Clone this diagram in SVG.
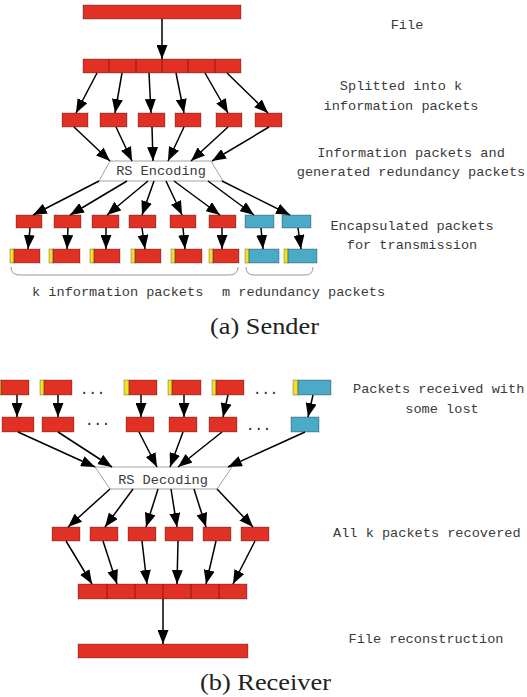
<svg xmlns="http://www.w3.org/2000/svg" width="527" height="697" viewBox="0 0 527 697">
<defs>
<marker id="ah" markerWidth="14" markerHeight="11" refX="14" refY="5.5" orient="auto" markerUnits="userSpaceOnUse"><path d="M0,0 L14,5.5 L0,11 z" fill="#000"/></marker>
<style>
.r{fill:#E03124;stroke:#000;stroke-opacity:0.35;stroke-width:0.8}
.c{fill:#4BAAC6;stroke:#000;stroke-opacity:0.35;stroke-width:0.8}
.y{fill:#F2E12A;stroke:#000;stroke-opacity:0.35;stroke-width:0.8}
.dv{stroke:#8B1A14;stroke-width:1}
.tz{fill:#fff;stroke:#8a8a8a;stroke-width:0.8}
.a{stroke:#000;stroke-width:1.5;fill:none;marker-end:url(#ah)}
.br{fill:none;stroke:#9a9a9a;stroke-width:1}
.t{font-family:"Liberation Mono","DejaVu Sans Mono",monospace;font-size:13.6px;fill:#3a3a3a}
.tm{text-anchor:middle}
.cap{font-family:"Liberation Serif","DejaVu Serif",serif;font-size:23px;fill:#222;text-anchor:middle}
.dots{font-family:"Liberation Mono",monospace;font-size:14px;fill:#222}
</style>
</defs>

<!-- ===== Sender ===== -->
<g id="file">
<rect class="r" x="83" y="5" width="158" height="14"/>
</g>
<g id="split">
<rect class="r" x="83" y="59" width="158" height="14"/>
<line class="dv" x1="109" y1="59" x2="109" y2="73"/>
<line class="dv" x1="136" y1="59" x2="136" y2="73"/>
<line class="dv" x1="162" y1="59" x2="162" y2="73"/>
<line class="dv" x1="188" y1="59" x2="188" y2="73"/>
<line class="dv" x1="215" y1="59" x2="215" y2="73"/>
</g>
<g id="info-packets">
<rect class="r" x="62" y="113" width="26" height="14"/>
<rect class="r" x="100" y="113" width="27" height="14"/>
<rect class="r" x="138" y="113" width="27" height="14"/>
<rect class="r" x="175" y="113" width="26" height="14"/>
<rect class="r" x="216" y="113" width="26" height="14"/>
<rect class="r" x="255" y="113" width="27" height="14"/>
</g>
<g id="rs-encoding">
<polygon class="tz" points="110,161 211,161 223,181 99,181"/>
<text class="t tm" x="161" y="175">RS Encoding</text>
</g>
<g id="encoded">
<rect class="r" x="16" y="215" width="26" height="13"/>
<rect class="r" x="54" y="215" width="27" height="13"/>
<rect class="r" x="92" y="215" width="27" height="13"/>
<rect class="r" x="129" y="215" width="27" height="13"/>
<rect class="r" x="170" y="215" width="26" height="13"/>
<rect class="r" x="209" y="215" width="27" height="13"/>
<rect class="c" x="245" y="215" width="29" height="13"/>
<rect class="c" x="282" y="215" width="29" height="13"/>
</g>
<g id="encapsulated">
<rect class="y" x="10" y="249" width="4" height="14"/><rect class="r" x="14" y="249" width="26" height="14"/>
<rect class="y" x="49" y="249" width="4" height="14"/><rect class="r" x="53" y="249" width="27" height="14"/>
<rect class="y" x="90" y="249" width="4" height="14"/><rect class="r" x="94" y="249" width="26" height="14"/>
<rect class="y" x="131" y="249" width="4" height="14"/><rect class="r" x="135" y="249" width="26" height="14"/>
<rect class="y" x="171" y="249" width="4" height="14"/><rect class="r" x="175" y="249" width="27" height="14"/>
<rect class="y" x="209" y="249" width="4" height="14"/><rect class="r" x="213" y="249" width="26" height="14"/>
<rect class="y" x="245" y="249" width="4" height="14"/><rect class="c" x="249" y="249" width="30" height="14"/>
<rect class="y" x="284" y="249" width="4" height="14"/><rect class="c" x="288" y="249" width="29" height="14"/>
</g>
<g id="braces">
<path class="br" d="M11,267 Q11,275 20,275 L229,275 Q238,275 238,267"/>
<path class="br" d="M246,267 Q246,275 254,275 L305,275 Q313,275 313,267"/>
</g>

<g id="connectors-sender">
<line class="a" x1="162" y1="19" x2="162" y2="59"/>
<line class="a" x1="97" y1="73" x2="76" y2="113"/>
<line class="a" x1="122" y1="73" x2="115" y2="113"/>
<line class="a" x1="149" y1="73" x2="151" y2="113"/>
<line class="a" x1="176" y1="73" x2="184" y2="113"/>
<line class="a" x1="205" y1="73" x2="228" y2="113"/>
<line class="a" x1="227" y1="73" x2="268" y2="113"/>
<line class="a" x1="74" y1="127" x2="110" y2="161"/>
<line class="a" x1="116" y1="127" x2="132" y2="161"/>
<line class="a" x1="152" y1="127" x2="153" y2="161"/>
<line class="a" x1="184" y1="127" x2="168" y2="161"/>
<line class="a" x1="228" y1="127" x2="191" y2="161"/>
<line class="a" x1="269" y1="127" x2="212" y2="161"/>
<line class="a" x1="99" y1="181" x2="33" y2="215"/>
<line class="a" x1="127" y1="181" x2="70" y2="215"/>
<line class="a" x1="148" y1="181" x2="107" y2="215"/>
<line class="a" x1="154" y1="181" x2="142" y2="215"/>
<line class="a" x1="166" y1="181" x2="182" y2="215"/>
<line class="a" x1="174" y1="181" x2="220" y2="215"/>
<line class="a" x1="208" y1="181" x2="254" y2="215"/>
<line class="a" x1="222" y1="181" x2="290" y2="215"/>
<line class="a" x1="30" y1="228" x2="28" y2="249"/>
<line class="a" x1="68" y1="228" x2="67" y2="249"/>
<line class="a" x1="106" y1="228" x2="106" y2="249"/>
<line class="a" x1="142" y1="228" x2="145" y2="249"/>
<line class="a" x1="183" y1="228" x2="185" y2="249"/>
<line class="a" x1="222" y1="228" x2="222" y2="249"/>
<line class="a" x1="261" y1="228" x2="263" y2="249"/>
<line class="a" x1="298" y1="228" x2="301" y2="249"/>
</g>

<g id="labels-sender">
<text class="t tm" x="407" y="29">File</text>
<text class="t tm" x="401" y="90">Splitted into k</text>
<text class="t tm" x="401" y="110">information packets</text>
<text class="t tm" x="411" y="157">Information packets and</text>
<text class="t tm" x="411" y="176">generated redundancy packets</text>
<text class="t tm" x="412" y="230">Encapsulated packets</text>
<text class="t tm" x="412" y="249">for transmission</text>
<text class="t" x="32" y="296">k information packets</text>
<text class="t" x="222" y="296">m redundancy packets</text>
<text class="cap" x="264.5" y="334" textLength="109" lengthAdjust="spacingAndGlyphs">(a) Sender</text>
</g>

<!-- ===== Receiver ===== -->
<g id="received">
<rect class="y" x="-4" y="380" width="5" height="15"/><rect class="r" x="1" y="380" width="28" height="15"/>
<rect class="y" x="40" y="380" width="4" height="15"/><rect class="r" x="44" y="380" width="28" height="15"/>
<rect class="y" x="124" y="380" width="5" height="15"/><rect class="r" x="129" y="380" width="28" height="15"/>
<rect class="y" x="168" y="380" width="4" height="15"/><rect class="r" x="172" y="380" width="29" height="15"/>
<rect class="y" x="212" y="380" width="4" height="15"/><rect class="r" x="216" y="380" width="28" height="15"/>
<rect class="y" x="293" y="380" width="5" height="15"/><rect class="c" x="298" y="380" width="33" height="15"/>
<text class="dots" x="80" y="394">...</text>
<text class="dots" x="253" y="394">...</text>
</g>
<g id="decapsulated">
<rect class="r" x="2" y="417" width="32" height="15"/>
<rect class="r" x="42" y="417" width="32" height="15"/>
<rect class="r" x="126" y="417" width="28" height="15"/>
<rect class="r" x="169" y="417" width="28" height="15"/>
<rect class="r" x="209" y="417" width="28" height="15"/>
<rect class="c" x="291" y="417" width="28" height="15"/>
<text class="dots" x="85" y="425">...</text>
<text class="dots" x="246" y="430">...</text>
</g>
<g id="rs-decoding">
<polygon class="tz" points="95,467 232,467 217,489 110,489"/>
<text class="t tm" x="163" y="484">RS Decoding</text>
</g>
<g id="recovered">
<rect class="r" x="52" y="527" width="28" height="14"/>
<rect class="r" x="90" y="527" width="28" height="14"/>
<rect class="r" x="128" y="527" width="28" height="14"/>
<rect class="r" x="165" y="527" width="28" height="14"/>
<rect class="r" x="203" y="527" width="28" height="14"/>
<rect class="r" x="241" y="527" width="28" height="14"/>
</g>
<g id="merged">
<rect class="r" x="78" y="584" width="169" height="15"/>
<line class="dv" x1="107" y1="584" x2="107" y2="599"/>
<line class="dv" x1="135" y1="584" x2="135" y2="599"/>
<line class="dv" x1="163" y1="584" x2="163" y2="599"/>
<line class="dv" x1="191" y1="584" x2="191" y2="599"/>
<line class="dv" x1="219" y1="584" x2="219" y2="599"/>
</g>
<g id="file-rebuilt">
<rect class="r" x="78" y="644" width="170" height="14"/>
</g>

<g id="connectors-receiver">
<line class="a" x1="17" y1="395" x2="17" y2="417"/>
<line class="a" x1="58" y1="395" x2="58" y2="417"/>
<line class="a" x1="141" y1="395" x2="141" y2="417"/>
<line class="a" x1="184" y1="395" x2="184" y2="417"/>
<line class="a" x1="228" y1="395" x2="223" y2="417"/>
<line class="a" x1="313" y1="395" x2="308" y2="417"/>
<line class="a" x1="18" y1="432" x2="95" y2="467"/>
<line class="a" x1="58" y1="432" x2="112" y2="467"/>
<line class="a" x1="139" y1="432" x2="157" y2="467"/>
<line class="a" x1="183" y1="432" x2="170" y2="467"/>
<line class="a" x1="222" y1="432" x2="178" y2="467"/>
<line class="a" x1="305" y1="432" x2="228" y2="467"/>
<line class="a" x1="110" y1="489" x2="68" y2="527"/>
<line class="a" x1="133" y1="489" x2="105" y2="527"/>
<line class="a" x1="158" y1="489" x2="146" y2="527"/>
<line class="a" x1="171" y1="489" x2="177" y2="527"/>
<line class="a" x1="194" y1="489" x2="206" y2="527"/>
<line class="a" x1="217" y1="489" x2="253" y2="527"/>
<line class="a" x1="66" y1="541" x2="92" y2="584"/>
<line class="a" x1="103" y1="541" x2="117" y2="584"/>
<line class="a" x1="142" y1="541" x2="147" y2="584"/>
<line class="a" x1="178" y1="541" x2="177" y2="584"/>
<line class="a" x1="216" y1="541" x2="206" y2="584"/>
<line class="a" x1="255" y1="541" x2="233" y2="584"/>
<line class="a" x1="163" y1="599" x2="163" y2="644"/>
</g>

<g id="labels-receiver">
<text class="t" x="353" y="393">Packets received with</text>
<text class="t tm" x="442" y="413">some lost</text>
<text class="t" x="333" y="537">All k packets recovered</text>
<text class="t tm" x="426" y="643">File reconstruction</text>
<text class="cap" x="265.5" y="690" textLength="131" lengthAdjust="spacingAndGlyphs">(b) Receiver</text>
</g>
</svg>
